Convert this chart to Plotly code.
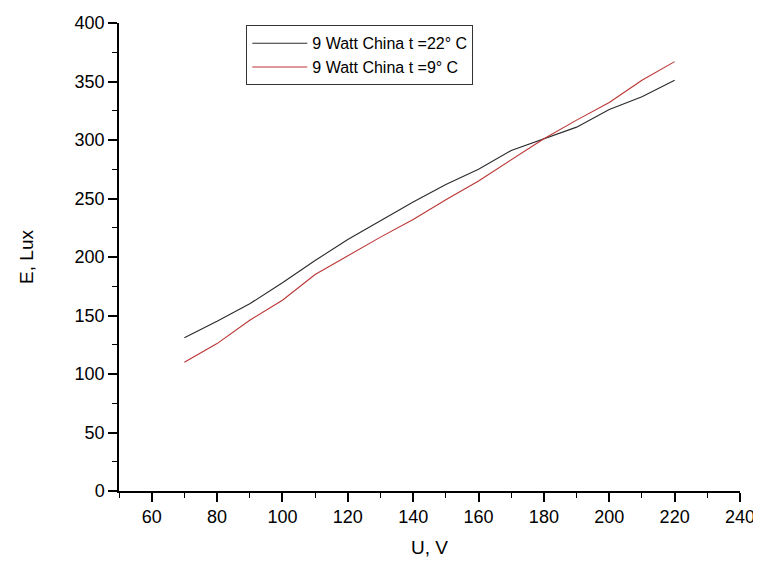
import plotly.graph_objects as go

voltage = [70, 80, 90, 100, 110, 120, 130, 140, 150, 160, 170, 180, 190, 200, 210, 220]
lux_22 = [131, 145, 160, 178, 197, 215, 231, 247, 262, 275, 291, 301, 311, 326, 337, 351]
lux_9 = [110, 126, 146, 163, 185, 201, 217, 232, 249, 265, 283, 301, 317, 332, 351, 367]

x_ticks = [60, 80, 100, 120, 140, 160, 180, 200, 220, 240]

name_22 = "9 Watt China t =22° C"
name_9 = "9 Watt China t =9° C"

FONT = "Liberation Sans, Arial, sans-serif"

fig = go.Figure()
fig.add_trace(go.Scatter(x=voltage, y=lux_22, mode="lines", name=name_22,
                         line=dict(color="#2b2b2b", width=1.1)))
fig.add_trace(go.Scatter(x=voltage, y=lux_9, mode="lines", name=name_9,
                         line=dict(color="#bb3535", width=1.1)))

# page body has an 8px margin, so the figure is sized to fill the 761x567 window
fig.update_layout(
    width=753, height=559,
    margin=dict(l=111, r=21, t=15, b=76),
    paper_bgcolor="white", plot_bgcolor="white",
    font=dict(family=FONT, size=18, color="black"),
    showlegend=True,
    legend=dict(x=0.205, y=0.995, xanchor="left", yanchor="top",
                bordercolor="#333333", borderwidth=1, bgcolor="white",
                font=dict(family=FONT, size=16, color="black"),
                tracegroupgap=0, itemwidth=55),
    xaxis=dict(range=[50, 240], tickvals=x_ticks,
               showgrid=False, zeroline=False, showline=True, linecolor="black", linewidth=1.5,
               ticks="outside", ticklen=9, tickwidth=1.5, tickcolor="black",
               tickfont=dict(size=18),
               minor=dict(dtick=10, tick0=50, ticks="outside", ticklen=5, tickwidth=1.3, tickcolor="black"),
               title=dict(text="U, V", font=dict(size=19), standoff=14),
               automargin=False),
    yaxis=dict(range=[0, 400], dtick=50,
               showgrid=False, zeroline=False, showline=True, linecolor="black", linewidth=1.5,
               ticks="outside", ticklen=9, tickwidth=1.5, tickcolor="black",
               tickfont=dict(size=18),
               minor=dict(dtick=25, ticks="outside", ticklen=5, tickwidth=1.3, tickcolor="black"),
               title=dict(text="E, Lux", font=dict(size=19), standoff=36),
               automargin=False),
)

fig.write_html("out.html")
